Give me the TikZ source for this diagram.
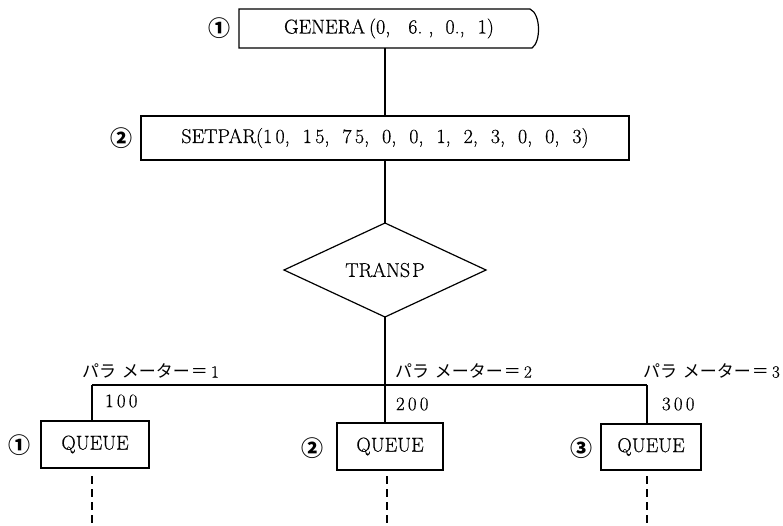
\documentclass[tikz,border=0pt]{standalone}
\usepackage{fontspec}
\newfontfamily\jpfont{Noto Sans CJK JP}
\newfontfamily\darkserif{Latin Modern Roman}[FakeBold=0.5]
\usetikzlibrary{shapes.geometric}
% label above each branch of the bus
\newcommand\paramtext[1]{{\jpfont パラ\hspace{6pt}メーター\hspace{1pt}＝}\hspace{3pt}{\darkserif #1}}
\begin{document}
\begin{tikzpicture}[x=1pt,y=-1pt,
  every node/.style={inner sep=0pt, outer sep=0pt},
  stroke/.style={line width=1.2pt, black},
  boxtext/.style={font=\darkserif\fontsize{20}{24}\selectfont},
  procbox/.style={draw, stroke, boxtext, rectangle},
  circnum/.style={font=\jpfont\bfseries\fontsize{22}{24}\selectfont},
  plabel/.style={font=\fontsize{17}{20}\selectfont, anchor=west},
  codenum/.style={font=\darkserif\fontsize{19}{22}\selectfont, anchor=west},
  tail/.style={stroke, dash pattern=on 8pt off 5pt}]
\useasboundingbox (0,0) rectangle (783,525);

% GENERA block: straight left side, bulging right side
\node[boxtext, minimum width=300, minimum height=39] (gen) at (389,28.5)
  {GENERA\hspace{4pt}(0,\hspace{18pt}6.\hspace{6pt},\hspace{12pt}0.,\hspace{13pt}1)};
\draw[stroke] (gen.south west) -- (gen.north west) -- ([xshift=-9pt]gen.north east)
  .. controls ([xshift=2pt,yshift=-5pt]gen.north east) and ([xshift=2pt,yshift=6pt]gen.south east)
  .. ([xshift=-7pt]gen.south east) -- cycle;
\node[circnum] (n1) at (219,28) {①};

% SETPAR block
\node[procbox, minimum width=488, minimum height=44] (set) at (385,138)
  {SETPAR(1\,0,\hspace{13pt}1\,5,\hspace{13pt}7\,5,\hspace{13pt}0,\hspace{13pt}0,\hspace{13pt}1,\hspace{13pt}2,\hspace{13pt}3,\hspace{13pt}0,\hspace{13pt}0,\hspace{13pt}3)};
\node[circnum] (n2) at (121,138) {②};

% TRANSP decision
\node[diamond, draw, stroke, boxtext, minimum width=202, minimum height=94] (tr) at (385,270)
  {TRANS\hspace{2pt}P};

% QUEUE blocks
\node[procbox, minimum width=108, minimum height=47] (q1) at (95,444.5) {QUEUE};
\node[procbox, minimum width=106, minimum height=47] (q2) at (390,446.5) {QUEUE};
\node[procbox, minimum width=100, minimum height=46] (q3) at (651,447) {QUEUE};
\node[circnum] (m1) at (20,445) {①};
\node[circnum] (m2) at (312,448) {②};
\node[circnum] (m3) at (581,448) {③};

% bus and its branch points
\coordinate (b1) at (92,385);
\coordinate (b2) at (385,385);
\coordinate (b3) at (647,385);

% connectors
\draw[stroke] (gen.south -| tr.north) -- (set.north -| tr.north);
\draw[stroke] (set.south -| tr.north) -- (tr.north);
\draw[stroke] (tr.south) -- (tr.south |- q2.north);
\draw[stroke] (b1) -- (b3);
\draw[stroke] (b1) -- (b1 |- q1.north);
\draw[stroke] (b3) -- (b3 |- q3.north);

% branch labels
\node[plabel] (p1) at (82,371) {\paramtext{1}};
\node[plabel] (p2) at (395,371) {\paramtext{2}};
\node[plabel] (p3) at (643,371) {\paramtext{3}};
\node[codenum] (c1) at (105,401) {1\,0\,0};
\node[codenum] (c2) at (396,404) {2\,0\,0};
\node[codenum] (c3) at (662,404) {3\,0\,0};

% dashed continuations
\coordinate (e1) at (92,525);
\coordinate (e2) at (387,525);
\coordinate (e3) at (647,525);
\draw[tail] ([yshift=-8pt]b1 |- q1.south) -- (e1);
\draw[tail] ([yshift=-6pt]e2 |- q2.south) -- (e2);
\draw[tail] ([yshift=-6pt]e3 |- q3.south) -- (e3);
\end{tikzpicture}
\end{document}
